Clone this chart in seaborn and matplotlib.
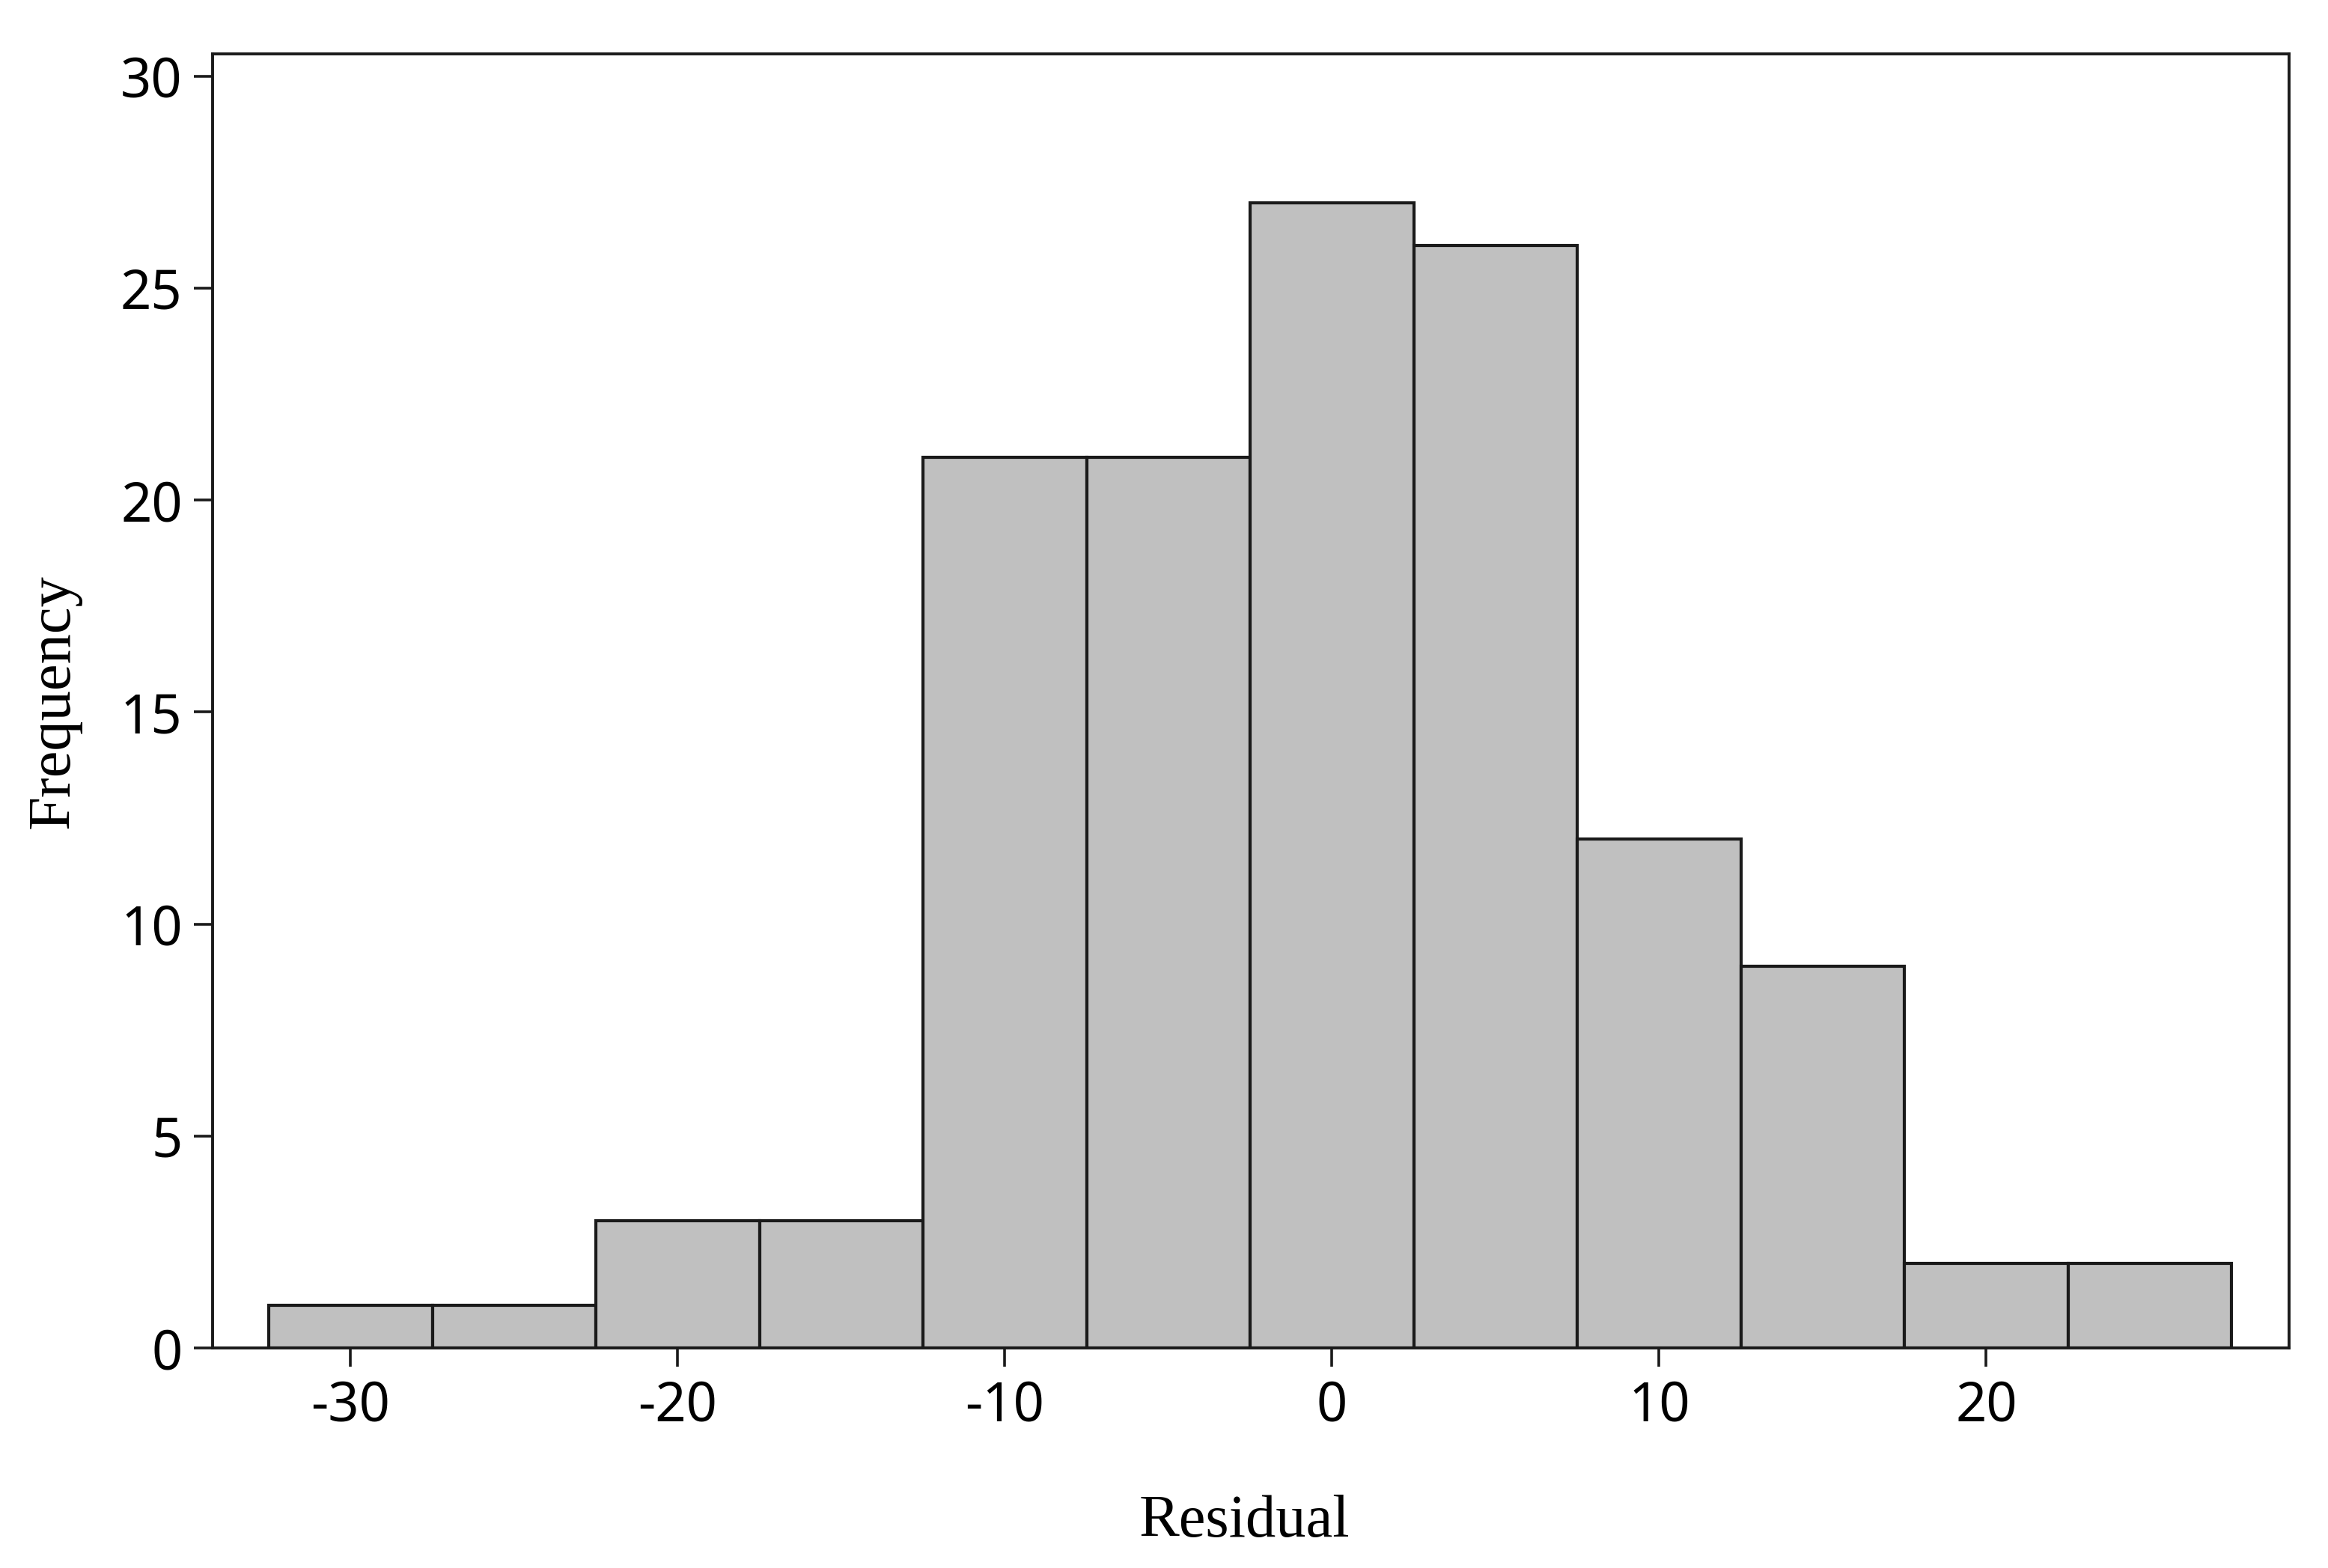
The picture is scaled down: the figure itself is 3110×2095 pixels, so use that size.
import numpy as np
import pandas as pd
import matplotlib
matplotlib.use("Agg")
import matplotlib.pyplot as plt
import seaborn as sns

# Data
bin_centers = [-30, -25, -20, -15, -10, -5, 0, 5, 10, 15, 20, 25]
frequency = [1, 1, 3, 3, 21, 21, 27, 26, 12, 9, 2, 2]
bin_width = 5
x_ticks = [-30, -20, -10, 0, 10, 20]
y_ticks = [0, 5, 10, 15, 20, 25, 30]
x_label = "Residual"
y_label = "Frequency"

sns.set_theme(style="ticks")
plt.rcParams["font.family"] = ["Noto Sans", "DejaVu Sans"]
plt.rcParams["axes.unicode_minus"] = False

df = pd.DataFrame({"Residual": bin_centers, "Frequency": frequency})

fig = plt.figure(figsize=(31.1, 20.95), dpi=100)
ax = fig.add_axes([0.0913, 0.1403, 0.8920, 0.8253])

sns.histplot(
    data=df, x="Residual", weights="Frequency",
    binwidth=bin_width,
    binrange=(min(bin_centers) - bin_width / 2, max(bin_centers) + bin_width / 2),
    color="#c0c0c0", edgecolor="#1a1a1a", linewidth=3.0, alpha=1.0, ax=ax,
)

ax.set_xlim(-34.22, 29.26)
ax.set_ylim(0, 30.52)
ax.set_xticks(x_ticks)
ax.set_yticks(y_ticks)

for sp in ax.spines.values():
    sp.set_visible(True)
    sp.set_color("#1a1a1a")
    sp.set_linewidth(2.8)

ax.tick_params(axis="both", direction="out", length=18, width=2.6,
               color="#1a1a1a", labelsize=52, labelcolor="black")
ax.tick_params(axis="x", pad=12)
ax.tick_params(axis="y", pad=11)

serif = ["Liberation Serif", "DejaVu Serif"]
ax.set_xlabel(x_label, fontsize=58, family=serif, color="black")
ax.set_ylabel(y_label, fontsize=58, family=serif, color="black")
ax.xaxis.label.set_va("baseline")
ax.yaxis.label.set_va("baseline")
ax.xaxis.set_label_coords(0.497, -0.1458)
ax.yaxis.set_label_coords(-0.0692, 0.5)

fig.savefig("out.png", dpi=100)
